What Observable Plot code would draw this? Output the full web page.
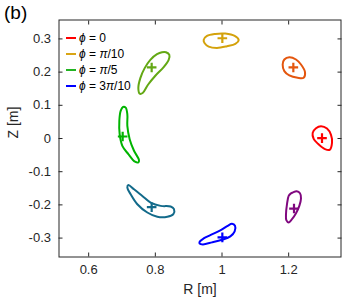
<!DOCTYPE html>
<html><head><meta charset="utf-8">
<script src="https://cdn.jsdelivr.net/npm/d3@7"></script>
<script src="https://cdn.jsdelivr.net/npm/@observablehq/plot@0.6"></script>
<style>
body{margin:0;background:#fff;font-family:"Liberation Sans",Arial,sans-serif;}
#wrap{position:relative;width:346px;height:303px;}
#tag{position:absolute;left:4px;top:3px;font-size:19px;color:#000;line-height:20px;}
#legend{position:absolute;left:66px;top:30px;font-size:12px;color:#000;}
.row{display:flex;align-items:center;height:16.1px;white-space:nowrap;}
.sw{width:10px;height:2px;margin-right:3px;}
#chart{position:absolute;left:0;top:0;}
</style></head><body>
<div id="wrap"><div id="chart"></div><div id="tag">(b)</div><div id="legend"></div></div>
<script>
// ---- data (R, Z in metres) ----
const contourRed = [[1.272,0.017],[1.282,0.031],[1.297,0.037],[1.315,0.030],[1.327,0.011],[1.330,-0.013],[1.323,-0.034],[1.309,-0.032],[1.288,-0.016],[1.275,-0.001]];
const contourOrange = [[1.182,0.223],[1.187,0.238],[1.202,0.245],[1.222,0.238],[1.237,0.223],[1.249,0.200],[1.245,0.183],[1.227,0.183],[1.202,0.190],[1.187,0.203]];
const contourGold = [[0.945,0.297],[0.955,0.309],[0.980,0.315],[1.010,0.316],[1.038,0.309],[1.050,0.297],[1.040,0.285],[1.015,0.278],[0.985,0.273],[0.960,0.277],[0.948,0.287]];
const contourOlive = [[0.832,0.260],[0.842,0.252],[0.840,0.237],[0.825,0.215],[0.800,0.189],[0.778,0.162],[0.762,0.137],[0.753,0.135],[0.749,0.152],[0.755,0.182],[0.768,0.212],[0.785,0.237],[0.805,0.254],[0.820,0.260]];
const contourGreen = [[0.703,0.095],[0.711,0.093],[0.716,0.073],[0.716,0.038],[0.723,-0.002],[0.736,-0.037],[0.751,-0.065],[0.749,-0.072],[0.739,-0.070],[0.719,-0.047],[0.701,-0.022],[0.693,0.013],[0.692,0.053],[0.696,0.083]];
const contourTeal = [[0.719,-0.140],[0.736,-0.153],[0.761,-0.173],[0.786,-0.193],[0.816,-0.203],[0.846,-0.205],[0.856,-0.213],[0.854,-0.228],[0.836,-0.236],[0.806,-0.236],[0.776,-0.223],[0.746,-0.198],[0.726,-0.168],[0.716,-0.148]];
const contourBlue = [[0.933,-0.311],[0.945,-0.301],[0.965,-0.291],[0.995,-0.277],[1.017,-0.263],[1.030,-0.257],[1.039,-0.263],[1.038,-0.280],[1.025,-0.295],[1.000,-0.305],[0.970,-0.313],[0.943,-0.319],[0.933,-0.317]];
const contourPurple = [[1.212,-0.163],[1.224,-0.159],[1.234,-0.165],[1.237,-0.181],[1.232,-0.203],[1.222,-0.225],[1.210,-0.243],[1.200,-0.253],[1.193,-0.246],[1.192,-0.228],[1.195,-0.198],[1.200,-0.173],[1.206,-0.166]];

const contourNames = ["s1","s2","s3","s4","s5","s6","s7","s8"];
const contourColors = ["#ff0000","#e4560e","#d4a20c","#63a814","#00b400","#126a8a","#0000ff","#80087f"];
const contours = [contourRed,contourOrange,contourGold,contourOlive,contourGreen,contourTeal,contourBlue,contourPurple];
const centerR = [1.300,1.214,1.001,0.789,0.702,0.789,1.001,1.216];
const centerZ = [0.001,0.214,0.302,0.214,0.006,-0.207,-0.298,-0.211];

const xTicks = [0.6,0.8,1,1.2];
const xTickLabels = ["0.6","0.8","1","1.2"];
const yTicks = [-0.3,-0.2,-0.1,0,0.1,0.2,0.3];
const yTickLabels = ["-0.3","-0.2","-0.1","0","0.1","0.2","0.3"];

const legendLabels = ["<i>ϕ</i> = 0","<i>ϕ</i> = <i>π</i>/10","<i>ϕ</i> = <i>π</i>/5","<i>ϕ</i> = 3<i>π</i>/10"];
const legendColors = ["#ff0000","#d9a514","#22b422","#0000ff"];

// ---- build tables ----
const linePts = contours.flatMap((c, i) => c.map(([R, Z]) => ({R, Z, name: contourNames[i]})));
const centers = centerR.map((R, i) => ({R, Z: centerZ[i], name: contourNames[i]}));

const fmtX = d => xTickLabels[xTicks.findIndex(t => Math.abs(t - d) < 1e-9)];
const fmtY = d => yTickLabels[yTicks.findIndex(t => Math.abs(t - d) < 1e-9)];
const axisColor = "#262626";

const chart = Plot.plot({
  width: 346, height: 303,
  marginLeft: 58.5, marginRight: 5.5, marginTop: 19.5, marginBottom: 46.5,
  x: {domain: [0.511, 1.357]},
  y: {domain: [-0.357, 0.357]},
  color: {type: "ordinal", domain: contourNames, range: contourColors},
  style: {fontFamily: "'Liberation Sans', Arial, sans-serif", fontSize: "13px", color: axisColor, background: "white"},
  marks: [
    Plot.frame({stroke: axisColor, strokeWidth: 1}),
    Plot.axisX(xTicks, {anchor: "bottom", tickSize: -4, tickFormat: () => "", label: null}),
    Plot.axisX(xTicks, {anchor: "top", tickSize: -4, tickFormat: () => "", label: null}),
    Plot.axisY(yTicks, {anchor: "left", tickSize: -4, tickFormat: () => "", label: null}),
    Plot.axisY(yTicks, {anchor: "right", tickSize: -4, tickFormat: () => "", label: null}),
    Plot.axisX(xTicks, {anchor: "bottom", tickSize: 0, tickPadding: 8, tickFormat: fmtX, label: null, fontSize: 13}),
    Plot.axisY(yTicks, {anchor: "left", tickSize: 0, tickPadding: 8, tickFormat: fmtY, label: null, fontSize: 13}),
    Plot.line(linePts, {x: "R", y: "Z", z: "name", stroke: "name", strokeWidth: 2, curve: "catmull-rom-closed"}),
    Plot.dot(centers, {x: "R", y: "Z", stroke: "name", symbol: "plus", r: 3.2, strokeWidth: 2.2}),
    Plot.text(["R [m]"], {text: d => d, frameAnchor: "bottom", dy: 37, fontSize: 14, fill: axisColor}),
    Plot.text(["Z [m]"], {text: d => d, frameAnchor: "left", rotate: -90, dx: -45, fontSize: 14, fill: axisColor})
  ]
});
document.getElementById("chart").appendChild(chart);

const leg = document.getElementById("legend");
legendLabels.forEach((lab, i) => {
  const row = document.createElement("div");
  row.className = "row";
  row.innerHTML = `<span class="sw" style="background:${legendColors[i]}"></span><span>${lab}</span>`;
  leg.appendChild(row);
});
</script>
</body></html>
